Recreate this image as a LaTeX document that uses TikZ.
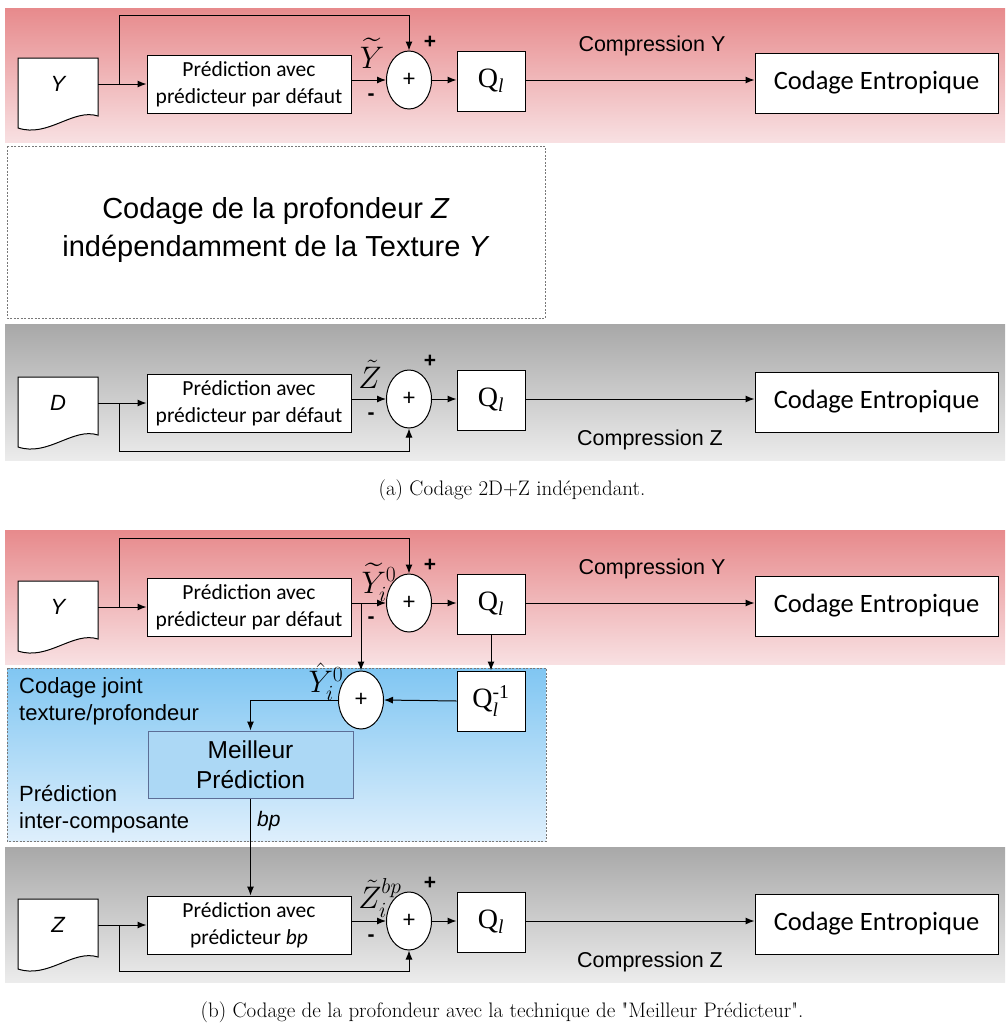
\documentclass[tikz,border=0pt]{standalone}
\usepackage{fontspec}
\usepackage{amsmath}
\usepackage{graphicx}
\usetikzlibrary{arrows.meta,shapes.geometric}
\newfontfamily\carfont{Carlito}
\newfontfamily\arialfont{Liberation Sans}
\newfontfamily\timesfont{Liberation Serif}
\definecolor{redtop}{RGB}{231,138,140}
\definecolor{redbot}{RGB}{248,224,226}
\definecolor{graytop}{RGB}{168,168,168}
\definecolor{graybot}{RGB}{236,236,236}
\definecolor{bluetop}{RGB}{128,198,242}
\definecolor{bluebot}{RGB}{222,239,252}
\definecolor{bestfill}{RGB}{172,216,245}
\definecolor{bestborder}{RGB}{92,110,150}
\definecolor{dashgray}{RGB}{120,120,120}
\newcommand\mlab[1]{\scalebox{1.25}{$#1$}}
\tikzset{
  arr/.style={line width=1pt,-{Latex[length=9pt,width=7pt]}},
  predbox/.style={draw,fill=white,line width=1pt,minimum width=204pt,minimum height=58pt,inner sep=0pt,align=center,font=\carfont\fontsize{21.5}{27}\selectfont},
  sumnode/.style={ellipse,draw,fill=white,line width=1pt,minimum width=45pt,minimum height=58pt,inner sep=0pt,font=\carfont\fontsize{24}{26}\selectfont},
  qbox/.style={draw,fill=white,line width=1pt,minimum width=68pt,minimum height=60pt,inner sep=0pt,font=\timesfont\fontsize{28}{32}\selectfont},
  cebox/.style={draw,fill=white,line width=1pt,minimum width=243pt,minimum height=60pt,inner sep=0pt,font=\carfont\fontsize{26.5}{30}\selectfont},
  doctext/.style={minimum width=80pt,minimum height=50pt,inner sep=0pt,font=\arialfont\itshape\fontsize{22}{26}\selectfont},
  docline/.style={draw,fill=white,line width=1pt},
  sign/.style={inner sep=0pt,font=\arialfont\bfseries\fontsize{21}{24}\selectfont},
  complab/.style={inner sep=0pt,font=\arialfont\fontsize{21.5}{25}\selectfont},
  mathlab/.style={inner sep=0pt,font=\fontsize{24}{28}\selectfont},
  bestbox/.style={draw=bestborder,fill=bestfill,line width=1pt,minimum width=205pt,minimum height=67pt,inner sep=0pt,align=center,font=\arialfont\fontsize{24.5}{30}\selectfont},
  sidelab/.style={anchor=west,inner sep=0pt,align=left,font=\arialfont\fontsize{22}{27}\selectfont},
  dashbox/.style={draw=dashgray,line width=0.7pt,dash pattern=on 2pt off 1.5pt},
  caption/.style={inner sep=0pt,font=\rmfamily\fontsize{21}{25}\selectfont}
}
\newcommand\coderow[4]{%
  \begin{scope}[shift={(18,#2-22)}]
    \draw[docline] (0,0) -- (80,0) -- (80,58) .. controls (55,50) and (30,80) .. (0,70) -- cycle;
  \end{scope}
  \node[doctext] (#1doc) at (58,#2+4) {#3};
  \node[predbox] (#1pred) at (249,#2+4) {Prédiction avec\\#4};
  \node[sumnode] (#1sum) at (409,#2) {+};
  \node[qbox] (#1Q) at (491,#2+1) {Q$_{\text{\itshape l}}$};
  \node[cebox] (#1CE) at (876.5,#2+3) {Codage Entropique};
  \node[sign] at (430,#2-38) {+};
  \node[sign] at (371,#2+17) {-};
  \draw[arr] (#1doc.east) -- (#1pred.west);
  \draw[arr] (#1pred.east |- #1sum.west) -- (#1sum.west);
  \draw[arr] (#1sum.east) -- (#1sum.east -| #1Q.west);
  \draw[arr] (#1Q.east |- #1sum.east) -- (#1sum.east -| #1CE.west);
  \coordinate (#1br) at (119,#2+4);
}
\begin{document}
\begin{tikzpicture}[x=1pt,y=-1pt]
\useasboundingbox (0,0) rectangle (1005,1026);
% backgrounds
\shade[top color=redtop,bottom color=redbot] (5,8) rectangle (1005,142);
\draw[dashbox] (7,146) rectangle (545,318);
\shade[top color=graytop,bottom color=graybot] (5,324) rectangle (1005,460);
\shade[top color=redtop,bottom color=redbot] (5,530) rectangle (1005,664);
\shade[top color=bluetop,bottom color=bluebot] (7,668) rectangle (546,841);
\draw[dashbox] (7,668) rectangle (546,841);
\shade[top color=graytop,bottom color=graybot] (5,847) rectangle (1005,982);

% ---- panel (a)
\coderow{A}{80}{Y}{prédicteur par défaut}
\coordinate (Atop) at (119,15);
\draw[arr] (Abr) -- (Atop) -| (Asum.north);
\node[mathlab] at (372,53) {\mlab{\widetilde{Y}}};
\node[complab] at (652,46) {Compression Y};

\node[inner sep=0pt,align=center,font=\arialfont\fontsize{29}{38}\selectfont] (indep) at (276,230)
  {Codage de la profondeur \textit{Z}\\indépendamment de la Texture \textit{Y}};

\coderow{B}{399}{D}{prédicteur par défaut}
\coordinate (Bbot) at (119,451);
\draw[arr] (Bbr) -- (Bbot) -| (Bsum.south);
\node[mathlab] at (370,374) {\mlab{\tilde{Z}}};
\node[complab] at (650,440) {Compression Z};

\node[caption] (capa) at (512,490) {(a) Codage 2D+Z indépendant.};

% ---- panel (b)
\coderow{C}{603}{Y}{prédicteur par défaut}
\coordinate (Ctop) at (119,538);
\draw[arr] (Cbr) -- (Ctop) -| (Csum.north);
\node[complab] at (652,569) {Compression Y};

\node[sumnode] (Csum2) at (361,700) {+};
\node[qbox] (Cqinv) at (491,701) {Q$_{\text{\itshape l}}^{\text{-1}}$};
\coordinate (Cj) at (361,603);
\draw[arr] (Cj) -- (Csum2.north);
\draw[arr] (CQ.south) -- (Cqinv.north);
\draw[arr] (Cqinv.west) -- (Csum2.east);
\node[bestbox] (best) at (250.5,764.5) {Meilleur\\Prédiction};
\draw[arr] (Csum2.west) -| (best.north);

\node[mathlab] at (379,582) {\mlab{\widetilde{Y}_{i}^{0}}};
\node[mathlab] at (326,682) {\mlab{\hat{Y}_{i}^{0}}};

\node[sidelab] (lab1) at (19,701) {Codage joint\\texture/profondeur};
\node[sidelab] (lab2) at (19,809) {Prédiction\\inter-composante};
\node[anchor=west,inner sep=0pt,font=\arialfont\itshape\fontsize{21}{24}\selectfont] (bp) at (257,821) {bp};

\coderow{D}{921}{Z}{prédicteur \textit{bp}}
\coordinate (Dbot) at (119,971);
\draw[arr] (Dbr) -- (Dbot) -| (Dsum.south);
\draw[arr] (best.south) -- (best.south |- Dpred.north);
\node[mathlab] at (380,898) {\mlab{\tilde{Z}_{i}^{bp}}};
\node[complab] at (650,962) {Compression Z};

\node[caption] (capb) at (502,1012) {(b) Codage de la profondeur avec la technique de \textquotedbl Meilleur Prédicteur\textquotedbl.};
\end{tikzpicture}
\end{document}
